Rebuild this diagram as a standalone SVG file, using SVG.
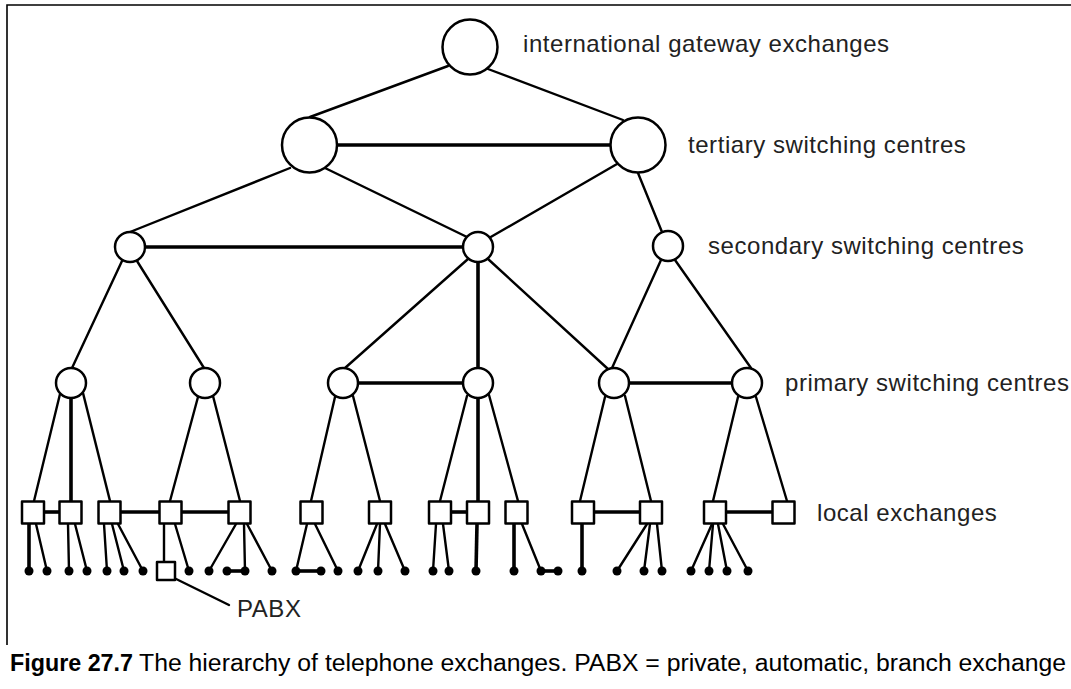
<svg xmlns="http://www.w3.org/2000/svg" width="1071" height="689" viewBox="0 0 1071 689">
<style>
.bg{fill:#fff}
.frame{stroke:#000;stroke-width:1.6;fill:none}
.c line{stroke:#000;stroke-width:2.4;stroke-linecap:round}
.c line.k{stroke-width:3.6;stroke-linecap:butt}
.n{fill:#fff;stroke:#000;stroke-width:2.5}
.s{fill:#fff;stroke:#000;stroke-width:2.5;stroke-linejoin:round}
.leaf{fill:#000}
.lbl{font-family:"Liberation Sans",Arial,sans-serif;font-size:24px;letter-spacing:0.55px;fill:#222}
.cap{font-family:"Liberation Sans Narrow","Liberation Sans",Arial,sans-serif;font-size:23px;fill:#000}
</style>
<rect class="bg" x="0" y="0" width="1071" height="689"/>
<path class="frame" d="M7,645 V5 H1071"/>

<g id="connectors" class="c">
<line x1="448" y1="66" x2="310" y2="117"/>
<line x1="488" y1="69" x2="623" y2="120"/>
<line class="k" x1="337" y1="145" x2="610" y2="145"/>
<line x1="290" y1="168" x2="130" y2="232"/>
<line x1="325" y1="168" x2="467" y2="237"/>
<line x1="617" y1="164" x2="489" y2="238"/>
<line x1="638" y1="173" x2="662" y2="232"/>
<line class="k" x1="145" y1="247" x2="463" y2="247"/>
<line x1="122" y1="261" x2="72" y2="368"/>
<line x1="137" y1="261" x2="204" y2="368"/>
<line x1="468" y1="259" x2="345" y2="368"/>
<line class="k" x1="478" y1="262" x2="478" y2="368"/>
<line x1="488" y1="259" x2="608" y2="369"/>
<line x1="661" y1="260" x2="612" y2="368"/>
<line x1="675" y1="260" x2="751" y2="368"/>
<line class="k" x1="358" y1="383" x2="463" y2="383"/>
<line class="k" x1="629" y1="383" x2="732" y2="383"/>

<line x1="60" y1="394" x2="34" y2="501"/>
<line class="k" x1="71" y1="398" x2="71" y2="501"/>
<line x1="83" y1="393" x2="110" y2="501"/>
<line x1="198" y1="397" x2="170" y2="501"/>
<line x1="213" y1="396" x2="240" y2="501"/>
<line x1="335" y1="397" x2="311" y2="501"/>
<line x1="353" y1="396" x2="380" y2="501"/>
<line x1="467" y1="396" x2="440" y2="501"/>
<line class="k" x1="478" y1="398" x2="478" y2="501"/>
<line x1="489" y1="395" x2="518" y2="501"/>
<line x1="605" y1="397" x2="580" y2="501"/>
<line x1="625" y1="396" x2="651" y2="501"/>
<line x1="738" y1="397" x2="713" y2="501"/>
<line x1="756" y1="397" x2="787" y2="501"/>

<line class="k" x1="44" y1="512" x2="59" y2="512"/>
<line class="k" x1="121" y1="512" x2="228" y2="512"/>
<line class="k" x1="451" y1="512" x2="467" y2="512"/>
<line class="k" x1="594" y1="512" x2="640" y2="512"/>
<line class="k" x1="726" y1="512" x2="772" y2="512"/>

<line class="k" x1="29" y1="524" x2="29" y2="571"/>
<line x1="36" y1="524" x2="47" y2="571"/>
<line x1="68" y1="524" x2="69" y2="571"/>
<line x1="75" y1="524" x2="87" y2="571"/>
<line x1="104" y1="524" x2="107" y2="571"/>
<line x1="112" y1="524" x2="124" y2="571"/>
<line x1="118" y1="524" x2="143" y2="571"/>
<line x1="164" y1="524" x2="164" y2="562"/>
<line x1="175" y1="524" x2="189" y2="571"/>
<line x1="236" y1="524" x2="209" y2="571"/>
<line x1="244" y1="524" x2="245" y2="571"/>
<line x1="247" y1="524" x2="272" y2="571"/>
<line class="k" x1="227" y1="571" x2="245" y2="571"/>
<line x1="307" y1="524" x2="296" y2="571"/>
<line x1="315" y1="524" x2="338" y2="571"/>
<line class="k" x1="296" y1="571" x2="321" y2="571"/>
<line x1="377" y1="524" x2="358" y2="571"/>
<line x1="380" y1="524" x2="378" y2="571"/>
<line x1="385" y1="524" x2="405" y2="571"/>
<line x1="436" y1="524" x2="433" y2="571"/>
<line x1="443" y1="524" x2="449" y2="571"/>
<line class="k" x1="477" y1="524" x2="476" y2="571"/>
<line class="k" x1="514" y1="524" x2="514" y2="571"/>
<line x1="522" y1="524" x2="541" y2="571"/>
<line class="k" x1="541" y1="571" x2="558" y2="571"/>
<line class="k" x1="582" y1="524" x2="582" y2="571"/>
<line x1="647" y1="524" x2="617" y2="571"/>
<line x1="650" y1="524" x2="644" y2="571"/>
<line x1="657" y1="524" x2="662" y2="571"/>
<line x1="712" y1="524" x2="691" y2="571"/>
<line x1="713" y1="524" x2="709" y2="571"/>
<line x1="718" y1="524" x2="727" y2="571"/>
<line x1="723" y1="524" x2="748" y2="571"/>
<line x1="168" y1="575" x2="229" y2="605"/>
</g>

<g id="gateway"><circle class="n" cx="470" cy="47" r="27.5"/></g>
<g id="tertiary-l"><circle class="n" cx="309.5" cy="145" r="27.5"/></g>
<g id="tertiary-r"><circle class="n" cx="638" cy="145" r="27.5"/></g>
<g id="secondary-l"><circle class="n" cx="130" cy="247" r="15"/></g>
<g id="secondary-m"><circle class="n" cx="478" cy="247" r="15"/></g>
<g id="secondary-r"><circle class="n" cx="668" cy="246" r="15"/></g>
<g id="primary-1"><circle class="n" cx="71" cy="383" r="15"/></g>
<g id="primary-2"><circle class="n" cx="205" cy="383" r="15"/></g>
<g id="primary-3"><circle class="n" cx="343" cy="383" r="15"/></g>
<g id="primary-4"><circle class="n" cx="478" cy="383" r="15"/></g>
<g id="primary-5"><circle class="n" cx="614" cy="383" r="15"/></g>
<g id="primary-6"><circle class="n" cx="747" cy="383" r="15"/></g>

<g id="local-1"><rect class="s" x="22" y="501.5" width="22" height="22"/></g>
<g id="local-2"><rect class="s" x="59.5" y="501.5" width="22" height="22"/></g>
<g id="local-3"><rect class="s" x="98.5" y="501.5" width="22" height="22"/></g>
<g id="local-4"><rect class="s" x="159.5" y="501.5" width="22" height="22"/></g>
<g id="local-5"><rect class="s" x="228.5" y="501.5" width="22" height="22"/></g>
<g id="local-6"><rect class="s" x="300.5" y="501.5" width="22" height="22"/></g>
<g id="local-7"><rect class="s" x="369" y="501.5" width="22" height="22"/></g>
<g id="local-8"><rect class="s" x="429" y="501.5" width="22" height="22"/></g>
<g id="local-9"><rect class="s" x="467" y="501.5" width="22" height="22"/></g>
<g id="local-10"><rect class="s" x="505.5" y="501.5" width="22" height="22"/></g>
<g id="local-11"><rect class="s" x="572" y="501.5" width="22" height="22"/></g>
<g id="local-12"><rect class="s" x="640" y="501.5" width="22" height="22"/></g>
<g id="local-13"><rect class="s" x="704" y="501.5" width="22" height="22"/></g>
<g id="local-14"><rect class="s" x="772.5" y="501.5" width="22" height="22"/></g>

<g id="pabx"><rect class="s" x="157" y="562" width="18" height="18" stroke-width="2.2"/></g>

<g id="leaf-1"><circle class="leaf" cx="29" cy="571" r="4.5"/></g>
<g id="leaf-2"><circle class="leaf" cx="47" cy="571" r="4.5"/></g>
<g id="leaf-3"><circle class="leaf" cx="69" cy="571" r="4.5"/></g>
<g id="leaf-4"><circle class="leaf" cx="87" cy="571" r="4.5"/></g>
<g id="leaf-5"><circle class="leaf" cx="107" cy="571" r="4.5"/></g>
<g id="leaf-6"><circle class="leaf" cx="124" cy="571" r="4.5"/></g>
<g id="leaf-7"><circle class="leaf" cx="143" cy="571" r="4.5"/></g>
<g id="leaf-8"><circle class="leaf" cx="189" cy="571" r="4.5"/></g>
<g id="leaf-9"><circle class="leaf" cx="209" cy="571" r="4.5"/></g>
<g id="leaf-10"><circle class="leaf" cx="227" cy="571" r="4.5"/></g>
<g id="leaf-11"><circle class="leaf" cx="245" cy="571" r="4.5"/></g>
<g id="leaf-12"><circle class="leaf" cx="272" cy="571" r="4.5"/></g>
<g id="leaf-13"><circle class="leaf" cx="296" cy="571" r="4.5"/></g>
<g id="leaf-14"><circle class="leaf" cx="321" cy="571" r="4.5"/></g>
<g id="leaf-15"><circle class="leaf" cx="338" cy="571" r="4.5"/></g>
<g id="leaf-16"><circle class="leaf" cx="358" cy="571" r="4.5"/></g>
<g id="leaf-17"><circle class="leaf" cx="378" cy="571" r="4.5"/></g>
<g id="leaf-18"><circle class="leaf" cx="405" cy="571" r="4.5"/></g>
<g id="leaf-19"><circle class="leaf" cx="433" cy="571" r="4.5"/></g>
<g id="leaf-20"><circle class="leaf" cx="449" cy="571" r="4.5"/></g>
<g id="leaf-21"><circle class="leaf" cx="476" cy="571" r="4.5"/></g>
<g id="leaf-22"><circle class="leaf" cx="514" cy="571" r="4.5"/></g>
<g id="leaf-23"><circle class="leaf" cx="541" cy="571" r="4.5"/></g>
<g id="leaf-24"><circle class="leaf" cx="558" cy="571" r="4.5"/></g>
<g id="leaf-25"><circle class="leaf" cx="582" cy="571" r="4.5"/></g>
<g id="leaf-26"><circle class="leaf" cx="617" cy="571" r="4.5"/></g>
<g id="leaf-27"><circle class="leaf" cx="644" cy="571" r="4.5"/></g>
<g id="leaf-28"><circle class="leaf" cx="662" cy="571" r="4.5"/></g>
<g id="leaf-29"><circle class="leaf" cx="691" cy="571" r="4.5"/></g>
<g id="leaf-30"><circle class="leaf" cx="709" cy="571" r="4.5"/></g>
<g id="leaf-31"><circle class="leaf" cx="727" cy="571" r="4.5"/></g>
<g id="leaf-32"><circle class="leaf" cx="748" cy="571" r="4.5"/></g>

<g id="labels">
<text class="lbl" x="523" y="52">international gateway exchanges</text>
<text class="lbl" x="688" y="153">tertiary switching centres</text>
<text class="lbl" x="708" y="254">secondary switching centres</text>
<text class="lbl" x="785" y="391">primary switching centres</text>
<text class="lbl" x="817" y="521">local exchanges</text>
<text class="lbl" x="237" y="617">PABX</text>
</g>

<g id="caption">
<text class="cap" x="10" y="671" font-weight="bold" textLength="123" lengthAdjust="spacingAndGlyphs">Figure 27.7</text>
<text class="cap" x="139" y="671" textLength="927" lengthAdjust="spacingAndGlyphs">The hierarchy of telephone exchanges. PABX = private, automatic, branch exchange</text>
</g>
</svg>
